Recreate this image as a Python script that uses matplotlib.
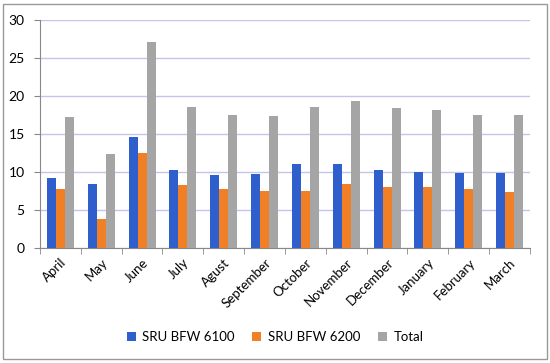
import matplotlib.pyplot as plt
import matplotlib.patches as patches
import numpy as np

plt.rcParams['font.family'] = ['Lato', 'DejaVu Sans']

months = ['April', 'May', 'June', 'July', 'Agust', 'September', 'October',
          'November', 'December', 'January', 'February', 'March']
bfw6100 = [9.25, 8.4, 14.6, 10.2, 9.65, 9.7, 11.0, 11.0, 10.2, 10.0, 9.9, 9.9]
bfw6200 = [7.8, 3.8, 12.5, 8.3, 7.8, 7.5, 7.5, 8.4, 8.0, 8.0, 7.7, 7.4]
total = [17.2, 12.4, 27.1, 18.6, 17.5, 17.4, 18.6, 19.4, 18.4, 18.1, 17.5, 17.5]

fig = plt.figure(figsize=(5.5, 3.63), dpi=100)
ax = fig.add_axes([0.0727, 0.3168, 0.8909, 0.6282])

x = np.arange(len(months))
w = 0.22
ax.bar(x - w, bfw6100, w, color='#2f5fcc', label='SRU BFW 6100', zorder=3)
ax.bar(x, bfw6200, w, color='#f07f26', label='SRU BFW 6200', zorder=3)
ax.bar(x + w, total, w, color='#a5a5a5', label='Total', zorder=3)

ax.set_ylim(0, 30)
ax.set_xlim(-0.5, 11.5)
ax.set_yticks(range(0, 31, 5))
ax.yaxis.grid(True, color='#c4c4ec', linewidth=1, zorder=0)
ax.set_xticks(x)
ax.set_xticklabels(months, rotation=45, ha='right', rotation_mode='anchor', fontsize=9.5)
ax.set_xticks(np.arange(-0.5, 12, 1), minor=True)
ax.tick_params(axis='x', which='major', length=0, pad=6)
ax.tick_params(axis='x', which='minor', length=4, color='#888888')
ax.tick_params(axis='y', length=4, color='#888888', labelsize=10, pad=7)
for s in ['top', 'right']:
    ax.spines[s].set_visible(False)
for s in ['left', 'bottom']:
    ax.spines[s].set_color('#888888')

fig.legend(loc='center', bbox_to_anchor=(0.5, 0.072), ncol=3, frameon=False,
           fontsize=9.5, handlelength=0.7, handleheight=0.7, columnspacing=1.3,
           handletextpad=0.5)

fig.patches.append(patches.Rectangle((0.006, 0.012), 0.988, 0.978, transform=fig.transFigure,
                                     fill=False, edgecolor='#999999', linewidth=1))

fig.savefig('out.png', dpi=100)
